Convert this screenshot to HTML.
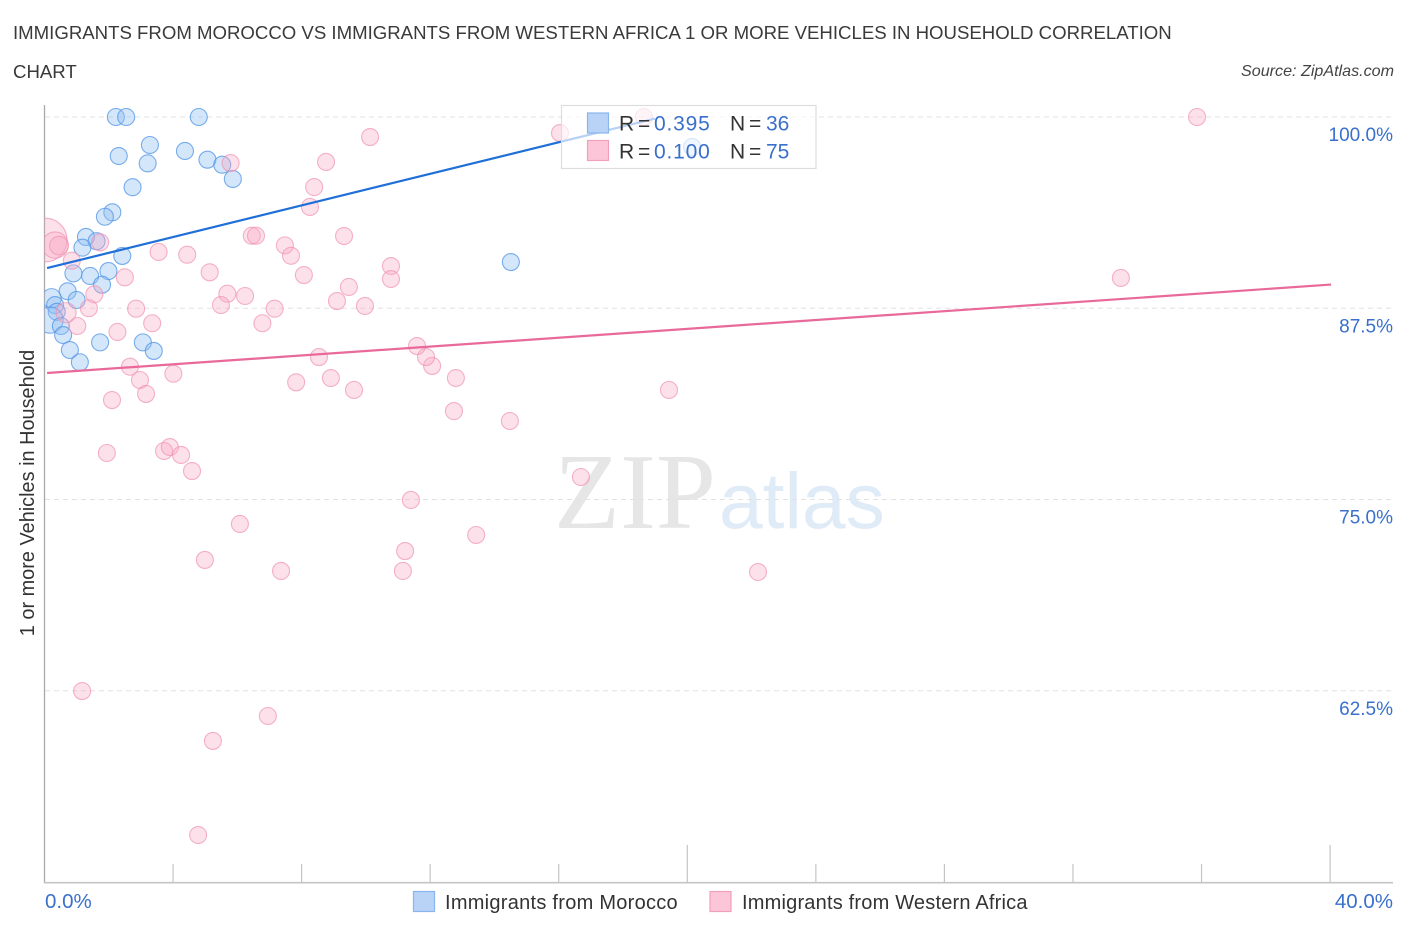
<!DOCTYPE html>
<html lang="en">
<head>
<meta charset="utf-8">
<title>Immigrants from Morocco vs Immigrants from Western Africa correlation chart</title>
<style>
html,body{margin:0;padding:0;background:#fff;}
svg{display:block;font-family:"Liberation Sans",sans-serif;}
</style>
</head>
<body>
<svg id="chart" xmlns="http://www.w3.org/2000/svg" width="1406" height="930" viewBox="0 0 1406 930">
  <defs>
    <clipPath id="plot-clip"><rect x="44.5" y="90" width="1361" height="793"/></clipPath>
  </defs>
  <rect x="0" y="0" width="1406" height="930" fill="#fff"/>
  <text x="13" y="39" font-size="18.63" fill="#3a3a3a">IMMIGRANTS FROM MOROCCO VS IMMIGRANTS FROM WESTERN AFRICA 1 OR MORE VEHICLES IN HOUSEHOLD CORRELATION</text>
  <text x="13" y="78" font-size="18.63" fill="#3a3a3a">CHART</text>
  <text x="1394" y="76" font-size="16.1" font-style="italic" text-anchor="end" fill="#444">Source: ZipAtlas.com</text>
  <g>
    <text x="554" y="528" font-size="108" font-family="'Liberation Serif',serif" fill="#e6e6e6">ZIP</text>
    <text x="719" y="528" font-size="78.5" fill="#e0ebf8">atlas</text>
  </g>
  <g id="grid"></g>
  <g id="axes"></g>
  <g id="blue-points" clip-path="url(#plot-clip)"></g>
  <g id="pink-points" clip-path="url(#plot-clip)"></g>
  <g id="trends"></g>
  <g font-size="21" word-spacing="-2">
    <rect x="561.5" y="105.5" width="254.5" height="63" fill="#fff" fill-opacity="0.68" stroke="#ddd" stroke-width="1.2"/>
    <rect x="587.5" y="113" width="21" height="20" fill="#b9d3f7" stroke="#8ab4ec" stroke-width="1.2"/>
    <rect x="587.5" y="140.5" width="21" height="20" fill="#fcc6d8" stroke="#f0a0b8" stroke-width="1.2"/>
    <text x="619" y="130.500" fill="#333">R =</text>
    <text x="654" y="130.500" fill="#3a70cc" letter-spacing="0.8">0.395</text>
    <text x="730" y="130.500" fill="#333">N =</text>
    <text x="766" y="130.500" fill="#3a70cc">36</text>
    <text x="619" y="158.500" fill="#333">R =</text>
    <text x="654" y="158.500" fill="#3a70cc" letter-spacing="0.8">0.100</text>
    <text x="730" y="158.500" fill="#333">N =</text>
    <text x="766" y="158.500" fill="#3a70cc">75</text>
  </g>
  <text transform="translate(34,493) rotate(-90)" font-size="19.9" text-anchor="middle" fill="#333">1 or more Vehicles in Household</text>
  <g font-size="20" fill="#333">
    <g>
      <rect x="413.500" y="891.500" width="21" height="20" fill="#b9d3f7" stroke="#8ab4ec" stroke-width="1.2"/>
      <text x="445" y="909" letter-spacing="0.27">Immigrants from Morocco</text>
    </g>
    <g>
      <rect x="710" y="891.500" width="21" height="20" fill="#fcc6d8" stroke="#f0a0b8" stroke-width="1.2"/>
      <text x="742" y="909" letter-spacing="0.2">Immigrants from Western Africa</text>
    </g>
  </g>
</svg>
<script>
const xTickValues = [0, 4, 8, 12, 16, 20, 24, 28, 32, 36, 40];
const xMajorTicks = [20, 40];
const xEndLabels = ["0.0%", "40.0%"];
const yTickValues = [100, 87.5, 75, 62.5];
const yTickLabels = ["100.0%", "87.5%", "75.0%", "62.5%"];

const moroccoX = [2.22,2.54,4.80,3.28,2.31,3.21,4.37,5.07,5.53,5.86,2.74,2.11,1.88,1.29,1.62,1.18,2.42,0.90,1.42,1.99,1.79,0.72,1.00,0.22,0.33,0.38,0.17,0.51,0.58,0.79,1.10,1.73,3.06,3.40,14.51,20.15];
const moroccoY = [100,100,100,98.17,97.45,96.97,97.78,97.21,96.88,95.95,95.41,93.77,93.48,92.16,91.88,91.46,90.92,89.78,89.61,89.93,89.04,88.61,88.04,88.15,87.71,87.27,86.73,86.34,85.75,84.77,83.97,85.27,85.27,84.71,90.52,98.04];
const moroccoWeight = [1,1,1,1,1,1,1,1,1,1,1,1,1,1,1,1,1,1,1,1,1,1,1,1.3,1,1,2.4,1,1,1,1,1,1,1,1,1];

const africaX = [5.79,0.02,0.33,0.45,1.73,0.85,3.55,4.44,5.14,6.45,6.58,7.48,7.67,8.07,2.50,1.55,1.38,2.85,5.69,5.49,6.24,7.16,6.78,3.35,1.02,0.67,2.27,2.66,2.97,4.01,7.83,3.16,2.10,1.94,3.72,3.90,4.25,4.59,6.08,4.99,7.36,11.15,11.22,11.40,13.43,16.69,22.20,1.17,6.95,5.24,4.78,35.86,33.49,19.43,14.48,12.74,12.80,12.06,11.87,11.59,9.63,8.91,8.54,9.97,9.10,9.47,10.78,10.78,9.32,8.26,8.39,8.76,10.13,16.04,18.65];
const africaY = [96.99,91.96,91.63,91.59,91.81,90.61,91.18,91.00,89.85,92.24,92.24,91.61,90.93,89.67,89.52,88.41,87.50,87.47,88.45,87.71,88.30,87.47,86.52,86.52,86.34,87.21,85.95,83.68,82.81,83.22,82.66,81.90,81.50,78.04,78.17,78.43,77.91,76.86,73.40,71.05,70.33,70.33,71.63,74.97,72.68,76.47,70.26,62.48,60.85,59.22,53.07,100,89.48,82.16,80.13,80.78,82.94,83.73,84.31,85.03,82.16,82.94,84.31,87.65,87.97,88.89,90.26,89.41,92.22,94.12,95.42,97.06,98.69,98.95,100];
const africaWeight = [1,6.6,2.4,1.2,1,1,1,1,1,1,1,1,1,1,1,1,1,1,1,1,1,1,1,1,1,1.4,1,1,1,1,1,1,1,1,1,1,1,1,1,1,1,1,1,1,1,1,1,1,1,1,1,1,1,1,1,1,1,1,1,1,1,1,1,1,1,1,1,1,1,1,1,1,1,1,1];

const moroccoTrendX = [0.08, 19];
const moroccoTrendY = [90.13, 99.9];
const africaTrendX = [0.08, 40.03];
const africaTrendY = [83.27, 89.05];

const NS = 'http://www.w3.org/2000/svg';
const xScale = function (v) { return 44.5 + v * 32.14; };
const yScale = function (v) { return 117 + (100 - v) * 15.3; };
const radius = function (w) { return 8.5 * Math.sqrt(w); };

function make(tag, parent, attrs, text) {
  const el = document.createElementNS(NS, tag);
  for (const k in attrs) el.setAttribute(k, attrs[k]);
  if (text !== undefined) el.textContent = text;
  parent.appendChild(el);
  return el;
}

const grid = document.getElementById('grid');
yTickValues.forEach(function (v, i) {
  const line = make('line', grid, { x1: 45, x2: 1393, y1: yScale(v), y2: yScale(v), stroke: '#e2e2e2', 'stroke-width': 1, 'stroke-dasharray': '5 4' });
  
  
  const label = make('text', grid, { x: 1393, y: yScale(v) + 24, 'font-size': 19, 'text-anchor': 'end', fill: '#3a70cc' }, yTickLabels[i]);
  
  
});

const axes = document.getElementById('axes');
const yAxisLine = make('line', axes, { x1: 44.5, x2: 44.5, y1: 105, y2: 883, stroke: '#aaa', 'stroke-width': 1.3 });


const xAxisLine = make('line', axes, { x1: 44, x2: 1393, y1: 882.7, y2: 882.7, stroke: '#c4c4c4', 'stroke-width': 1.6 });


xTickValues.forEach(function (v) {
  if (v === 0) return;
  const top = xMajorTicks.indexOf(v) >= 0 ? 845 : 864;
  const tick = make('line', axes, { x1: xScale(v), x2: xScale(v), y1: top, y2: 883, stroke: '#c4c4c4', 'stroke-width': 1.2 });
  
  
});
const xStart = make('text', axes, { x: 45, y: 908, 'font-size': 20.5, fill: '#3a70cc' }, xEndLabels[0]);


const xEnd = make('text', axes, { x: 1393, y: 908, 'font-size': 20.5, 'text-anchor': 'end', fill: '#3a70cc' }, xEndLabels[1]);



const bluePoints = document.getElementById('blue-points');
moroccoX.forEach(function (v, i) {
  const c = make('circle', bluePoints, { cx: xScale(v), cy: yScale(moroccoY[i]), r: radius(moroccoWeight[i]), fill: '#8dbcf2', 'fill-opacity': 0.38, stroke: '#4f94e6', 'stroke-opacity': 0.75, 'stroke-width': 1.1 });
  
  
});

const pinkPoints = document.getElementById('pink-points');
africaX.forEach(function (v, i) {
  const c = make('circle', pinkPoints, { cx: xScale(v), cy: yScale(africaY[i]), r: radius(africaWeight[i]), fill: '#f9a8c2', 'fill-opacity': 0.34, stroke: '#f093b0', 'stroke-opacity': 0.7, 'stroke-width': 1.1 });
  
  
});

const trends = document.getElementById('trends');
const blueTrend = make('line', trends, { x1: xScale(moroccoTrendX[0]), y1: yScale(moroccoTrendY[0]), x2: xScale(moroccoTrendX[1]), y2: yScale(moroccoTrendY[1]), stroke: '#1f6fd8', 'stroke-width': 2.2 });


const pinkTrend = make('line', trends, { x1: xScale(africaTrendX[0]), y1: yScale(africaTrendY[0]), x2: xScale(africaTrendX[1]), y2: yScale(africaTrendY[1]), stroke: '#e8699a', 'stroke-width': 2.2 });


</script>
</body>
</html>
